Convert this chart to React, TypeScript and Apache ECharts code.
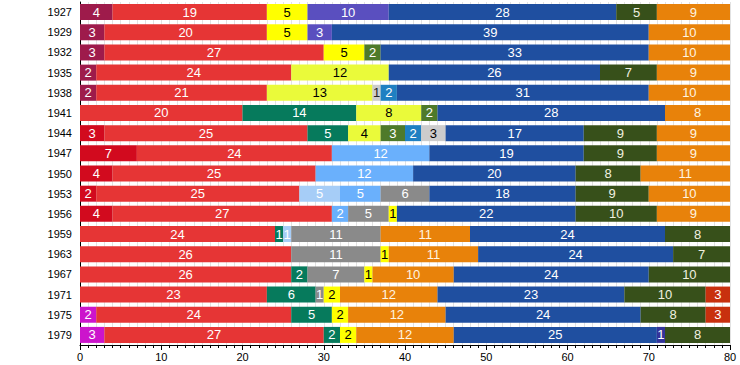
import React, { useEffect, useRef } from "react";
import * as echarts from "echarts";

const years = ["1927","1929","1932","1935","1938","1941","1944","1947","1950","1953","1956","1959","1963","1967","1971","1975","1979"];

const maroon =      [4, 3, 3, 2, 2, 0, 0, 0, 0, 0, 0, 0, 0, 0, 0, 0, 0];
const darkRed =     [0, 0, 0, 0, 0, 0, 3, 7, 4, 2, 4, 0, 0, 0, 0, 0, 0];
const magenta =     [0, 0, 0, 0, 0, 0, 0, 0, 0, 0, 0, 0, 0, 0, 0, 2, 3];
const red =         [19, 20, 27, 24, 21, 20, 25, 24, 25, 25, 27, 24, 26, 26, 23, 24, 27];
const teal =        [0, 0, 0, 0, 0, 14, 5, 0, 0, 0, 0, 1, 0, 2, 6, 5, 2];
const paleBlue =    [0, 0, 0, 0, 0, 0, 0, 0, 0, 5, 0, 1, 0, 0, 0, 0, 0];
const lightBlue =   [0, 0, 0, 0, 0, 0, 0, 12, 12, 5, 2, 0, 0, 0, 0, 0, 0];
const gray =        [0, 0, 0, 0, 0, 0, 0, 0, 0, 6, 5, 11, 11, 7, 1, 0, 0];
const yellow =      [5, 5, 5, 0, 0, 0, 0, 0, 0, 0, 1, 0, 1, 1, 2, 2, 2];
const lime =        [0, 0, 0, 12, 13, 8, 4, 0, 0, 0, 0, 0, 0, 0, 0, 0, 0];
const purple =      [10, 3, 0, 0, 0, 0, 0, 0, 0, 0, 0, 0, 0, 0, 0, 0, 0];
const olive =       [0, 0, 2, 0, 0, 2, 3, 0, 0, 0, 0, 0, 0, 0, 0, 0, 0];
const lightGrayA =  [0, 0, 0, 0, 1, 0, 0, 0, 0, 0, 0, 0, 0, 0, 0, 0, 0];
const tealBlue =    [0, 0, 0, 0, 2, 0, 2, 0, 0, 0, 0, 0, 0, 0, 0, 0, 0];
const lightGrayB =  [0, 0, 0, 0, 0, 0, 3, 0, 0, 0, 0, 0, 0, 0, 0, 0, 0];
const orangeLate =  [0, 0, 0, 0, 0, 0, 0, 0, 0, 0, 0, 11, 11, 10, 12, 12, 12];
const blue =        [28, 39, 33, 26, 31, 28, 17, 19, 20, 18, 22, 24, 24, 24, 23, 24, 25];
const navy =        [0, 0, 0, 0, 0, 0, 0, 0, 0, 0, 0, 0, 0, 0, 0, 0, 1];
const darkGreen =   [5, 0, 0, 7, 0, 0, 9, 9, 8, 9, 10, 8, 7, 10, 10, 8, 8];
const orangeEarly = [9, 10, 10, 9, 10, 8, 9, 9, 11, 10, 9, 0, 0, 0, 0, 0, 0];
const brick =       [0, 0, 0, 0, 0, 0, 0, 0, 0, 0, 0, 0, 0, 0, 3, 3, 0];

const seriesDefs: [string, number[], string, string][] = [
  ["maroon", maroon, "#9e1b4b", "#ffffff"],
  ["darkRed", darkRed, "#d20a1e", "#ffffff"],
  ["magenta", magenta, "#cc14cc", "#ffffff"],
  ["red", red, "#e63535", "#ffffff"],
  ["teal", teal, "#067a5c", "#ffffff"],
  ["paleBlue", paleBlue, "#a6cdf7", "#ffffff"],
  ["lightBlue", lightBlue, "#6ab0fc", "#ffffff"],
  ["gray", gray, "#8a8a8a", "#ffffff"],
  ["yellow", yellow, "#ffff00", "#000000"],
  ["lime", lime, "#eafa3a", "#000000"],
  ["purple", purple, "#5a4fbf", "#ffffff"],
  ["olive", olive, "#4e7a2a", "#ffffff"],
  ["lightGrayA", lightGrayA, "#cccccc", "#222222"],
  ["tealBlue", tealBlue, "#1f80c2", "#ffffff"],
  ["lightGrayB", lightGrayB, "#cccccc", "#000000"],
  ["orangeLate", orangeLate, "#e8820a", "#fff4e0"],
  ["blue", blue, "#1f4fa0", "#ffffff"],
  ["navy", navy, "#33339a", "#ffffff"],
  ["darkGreen", darkGreen, "#37501a", "#f0f0e0"],
  ["orangeEarly", orangeEarly, "#e8820a", "#fff4e0"],
  ["brick", brick, "#c8300e", "#ffffff"],
];

export default function App() {
  const ref = useRef<HTMLDivElement>(null);
  useEffect(() => {
    if (!ref.current) return;
    const chart = echarts.init(ref.current, null, { renderer: "svg" });
    const font = "Liberation Sans, Arial, sans-serif";
    chart.setOption({
      animation: false,
      textStyle: { fontFamily: font },
      grid: { left: 80, right: 10, top: 2, bottom: 20 },
      xAxis: {
        type: "value",
        min: 0,
        max: 80,
        interval: 10,
        axisLine: { show: true, lineStyle: { color: "#000", width: 1 } },
        axisTick: { show: true, length: 5, lineStyle: { color: "#000" } },
        minorTick: { show: true, splitNumber: 10, length: 3, lineStyle: { color: "#000" } },
        splitLine: { show: true, lineStyle: { color: "#e2e2e2", width: 1 } },
        minorSplitLine: { show: true, lineStyle: { color: "#e2e2e2", width: 1 } },
        axisLabel: { color: "#000", fontSize: 11, margin: 6, fontFamily: font },
      },
      yAxis: {
        type: "category",
        data: years,
        inverse: true,
        axisLine: { show: true, lineStyle: { color: "#000", width: 1 } },
        axisTick: { show: false },
        axisLabel: { color: "#000", fontSize: 11, margin: 8, fontFamily: font },
      },
      series: seriesDefs.map(([name, vals, color, labelColor]) => ({
        name,
        type: "bar",
        stack: "total",
        barWidth: 16,
        data: vals.map((v) => (v ? v : null)),
        itemStyle: { color },
        label: {
          show: true,
          position: "inside",
          color: labelColor,
          fontSize: 13,
          fontFamily: font,
          formatter: (p: any) => (p.value ? String(p.value) : ""),
        },
      })),
    });
    return () => chart.dispose();
  }, []);
  return (
    <div
      ref={ref}
      style={{ position: "fixed", left: 0, top: 0, width: 740, height: 365, background: "#fff" }}
    />
  );
}
